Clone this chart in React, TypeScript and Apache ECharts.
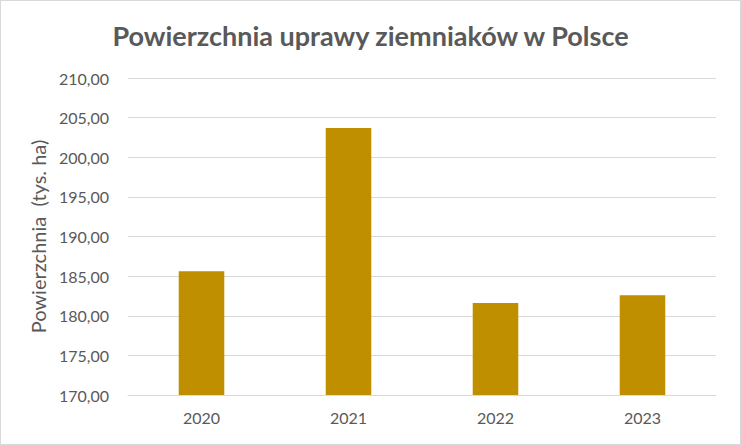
import React, { useEffect, useRef } from 'react';
import * as echarts from 'echarts';

const years = ['2020', '2021', '2022', '2023'];
const area = [185.6, 203.7, 181.6, 182.6];

const FONT = 'Lato, "Open Sans", sans-serif';

const App: React.FC = () => {
  const chartRef = useRef<HTMLDivElement>(null);

  useEffect(() => {
    if (!chartRef.current) return;
    const chart = echarts.init(chartRef.current, undefined, { renderer: 'svg' });
    chart.setOption({
      animation: false,
      backgroundColor: '#ffffff',
      textStyle: { fontFamily: FONT },
      title: {
        text: 'Powierzchnia uprawy ziemniaków w Polsce',
        left: 'center',
        top: 16,
        textStyle: { fontFamily: FONT, fontSize: 27, fontWeight: 'bold', color: '#595959' },
      },
      grid: { left: 127, right: 24, top: 77, bottom: 49 },
      xAxis: {
        type: 'category',
        data: years,
        axisLine: { show: true, lineStyle: { color: '#d9d9d9' } },
        axisTick: { show: false },
        axisLabel: { color: '#595959', fontSize: 16, margin: 14, fontFamily: FONT },
      },
      yAxis: {
        type: 'value',
        min: 170,
        max: 210,
        interval: 5,
        name: 'Powierzchnia  (tys. ha)',
        nameLocation: 'middle',
        nameGap: 79,
        nameTextStyle: { color: '#595959', fontSize: 20, fontFamily: FONT },
        axisLine: { show: false },
        axisTick: { show: false },
        splitLine: { lineStyle: { color: '#d9d9d9' } },
        axisLabel: {
          color: '#595959',
          fontSize: 16,
          margin: 19,
          fontFamily: FONT,
          formatter: (v: number) => v.toFixed(2).replace('.', ','),
        },
      },
      series: [
        {
          type: 'bar',
          data: area,
          barWidth: '31%',
          itemStyle: { color: '#BF8F00' },
        },
      ],
    });
    return () => {
      chart.dispose();
    };
  }, []);

  return (
    <div
      ref={chartRef}
      style={{
        position: 'fixed',
        left: 0,
        top: 0,
        width: 741,
        height: 445,
        boxSizing: 'border-box',
        border: '1px solid #d9d9d9',
      }}
    />
  );
};

export default App;
